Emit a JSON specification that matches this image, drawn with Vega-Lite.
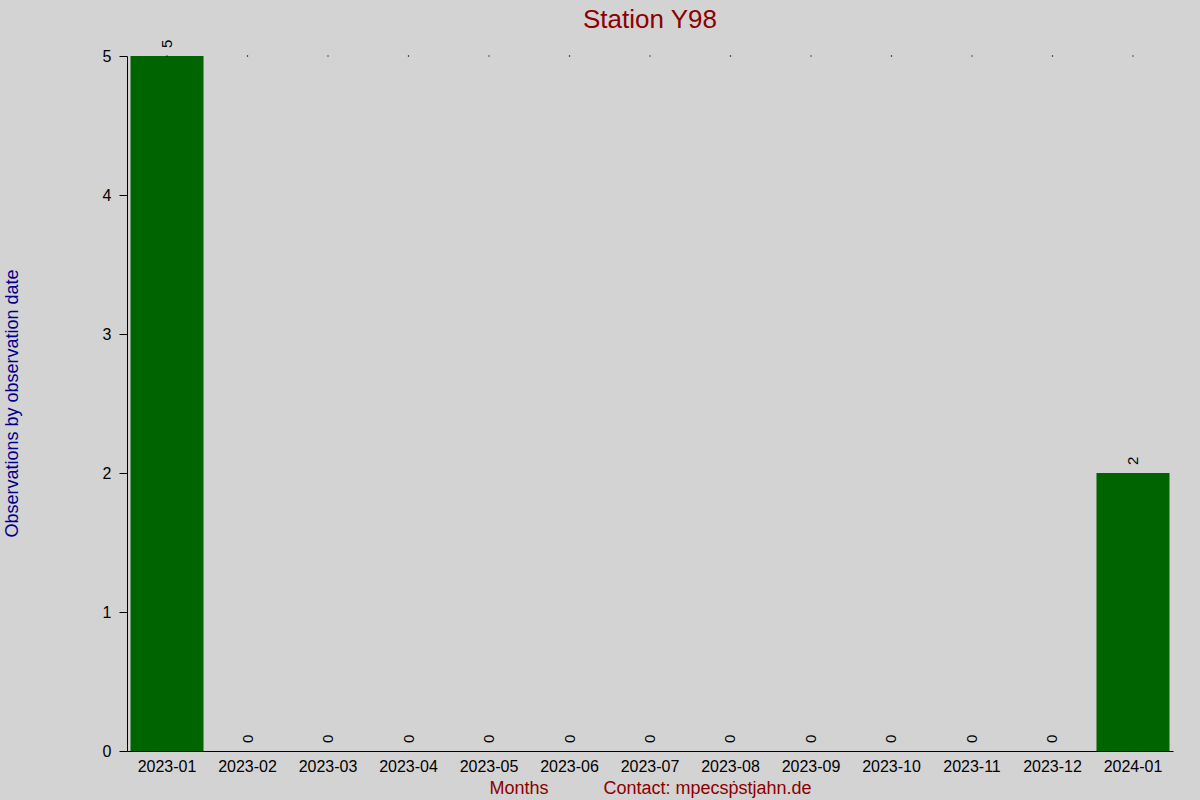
{
  "$schema": "https://vega.github.io/schema/vega-lite/v6.json",
  "autosize": "none",
  "width": 1046,
  "height": 695,
  "padding": {"left": 127, "top": 56, "right": 27, "bottom": 49},
  "background": "#d3d3d3",
  "config": {
    "view": {"stroke": null},
    "font": "Liberation Sans"
  },
  "title": {
    "text": "Station Y98",
    "fontSize": 26,
    "fontWeight": "normal",
    "color": "#8b0000",
    "anchor": "middle",
    "baseline": "alphabetic",
    "offset": -14
  },
  "data": {
    "values": [
      {"month": "2023-01", "count": 5},
      {"month": "2023-02", "count": 0},
      {"month": "2023-03", "count": 0},
      {"month": "2023-04", "count": 0},
      {"month": "2023-05", "count": 0},
      {"month": "2023-06", "count": 0},
      {"month": "2023-07", "count": 0},
      {"month": "2023-08", "count": 0},
      {"month": "2023-09", "count": 0},
      {"month": "2023-10", "count": 0},
      {"month": "2023-11", "count": 0},
      {"month": "2023-12", "count": 0},
      {"month": "2024-01", "count": 2}
    ]
  },
  "encoding": {
    "x": {
      "field": "month",
      "type": "ordinal",
      "scale": {"paddingInner": 0.093, "paddingOuter": 0.0435},
      "axis": {
        "title": "Months\u00a0\u00a0\u00a0\u00a0\u00a0\u00a0\u00a0\u00a0\u00a0\u00a0\u00a0Contact: mpecs\u1e57stjahn.de",
        "titleFontSize": 18,
        "titleFontWeight": "normal",
        "titleColor": "#8b0000",
        "titleBaseline": "alphabetic",
        "titleY": 42,
        "labelAngle": 0,
        "labelFontSize": 16,
        "labelColor": "black",
        "labelPadding": 7,
        "ticks": false,
        "tickSize": 0,
        "domainColor": "black",
        "grid": false
      }
    }
  },
  "layer": [
    {
      "mark": {"type": "bar", "color": "#006400"},
      "encoding": {
        "y": {
          "field": "count",
          "type": "quantitative",
          "scale": {"domain": [0, 5], "nice": false},
          "axis": {
            "title": "Observations by observation date",
            "titleFontSize": 18,
            "titleFontWeight": "normal",
            "titleColor": "#00008b",
            "titleBaseline": "alphabetic",
            "titleX": -110,
            "titleY": 347,
            "values": [0, 1, 2, 3, 4, 5],
            "format": "d",
            "labelFontSize": 16,
            "labelColor": "black",
            "tickSize": 8,
            "tickColor": "black",
            "labelPadding": 8,
            "domainColor": "black",
            "grid": false
          }
        }
      }
    },
    {
      "mark": {
        "type": "text",
        "angle": 270,
        "align": "left",
        "baseline": "middle",
        "dx": 8,
        "fontSize": 15,
        "color": "black"
      },
      "encoding": {
        "y": {"field": "count", "type": "quantitative"},
        "text": {"field": "count", "type": "quantitative"}
      }
    },
    {
      "mark": {"type": "square", "size": 1.5, "color": "black", "opacity": 1},
      "encoding": {
        "y": {"datum": 5}
      }
    }
  ]
}
